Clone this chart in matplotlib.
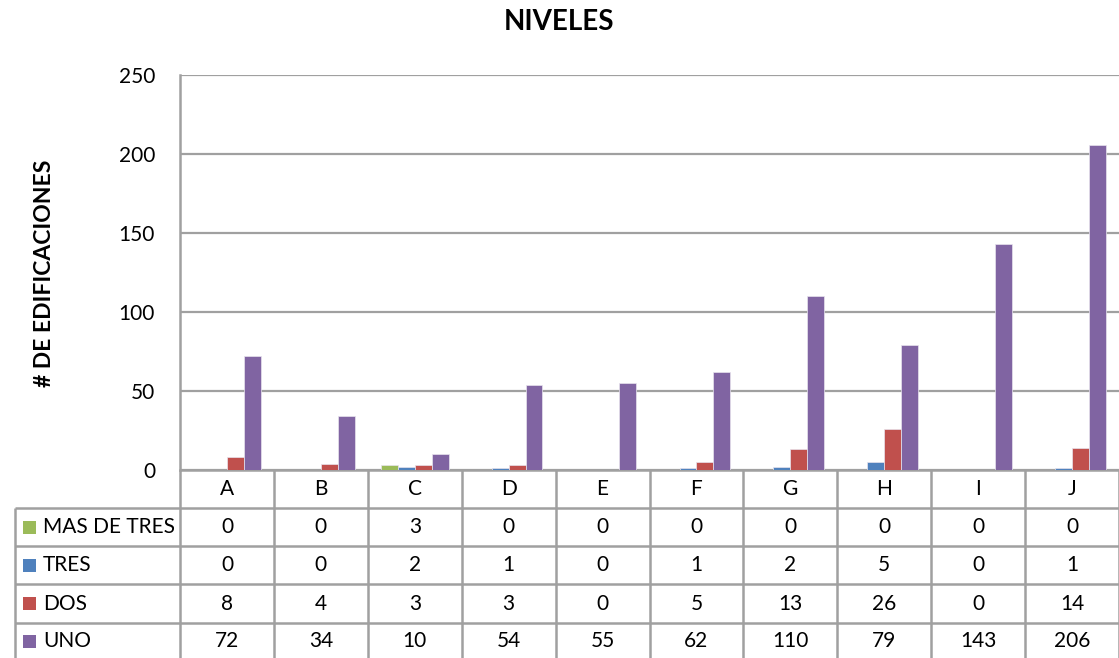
import numpy as np
import matplotlib
matplotlib.use("Agg")
import matplotlib.pyplot as plt
from matplotlib.patches import Rectangle
from matplotlib.transforms import blended_transform_factory

plt.rcParams['font.family'] = ['Lato', 'DejaVu Sans']

# Data
categories = ['A', 'B', 'C', 'D', 'E', 'F', 'G', 'H', 'I', 'J']
series_names = ['MAS DE TRES', 'TRES', 'DOS', 'UNO']
mas_de_tres = [0, 0, 3, 0, 0, 0, 0, 0, 0, 0]
tres = [0, 0, 2, 1, 0, 1, 2, 5, 0, 1]
dos = [8, 4, 3, 3, 0, 5, 13, 26, 0, 14]
uno = [72, 34, 10, 54, 55, 62, 110, 79, 143, 206]
y_ticks = [0, 50, 100, 150, 200, 250]

series = [mas_de_tres, tres, dos, uno]
colors = ['#9BBB59', '#4F81BD', '#C0504D', '#8064A2']
grid_color = '#a0a0a0'

W, H = 1119, 658
fig = plt.figure(figsize=(W / 100, H / 100), dpi=100)
fig.patch.set_facecolor('white')

# plot area (pixel layout converted to figure fractions)
ax = fig.add_axes([180 / W, (H - 470) / H, 939 / W, 395 / H])
x = np.arange(len(categories))
bw = 0.18
for k, (vals, col) in enumerate(zip(series, colors)):
    ax.bar(x + (k - 1.5) * bw, vals, bw, color=col, edgecolor='#e8e4ee',
           linewidth=0.5, zorder=3)

ax.set_xlim(-0.5, len(categories) - 0.5)
ax.set_ylim(0, 250)
ax.set_yticks(y_ticks)
ax.set_xticks([])
ax.yaxis.grid(True, color=grid_color, linewidth=1.6, zorder=0)
for s in ['top', 'right']:
    ax.spines[s].set_visible(False)
for s in ['left', 'bottom']:
    ax.spines[s].set_color(grid_color)
    ax.spines[s].set_linewidth(1.8)
ax.tick_params(axis='y', length=0, labelsize=15, pad=18, labelcolor='black')

fig.text(559 / W, 1 - 22 / H, 'NIVELES', ha='center', va='center',
         fontsize=20, fontweight='bold')
fig.text(45 / W, 1 - 273 / H, '# DE EDIFICACIONES', ha='center', va='center',
         rotation=90, fontsize=16.5, fontweight='bold')

# data table below the plot, in pixel coordinates
tab = fig.add_axes([0, 0, 1, 1], zorder=5)
tab.set_xlim(0, W)
tab.set_ylim(H, 0)
tab.axis('off')
tab.patch.set_alpha(0)
trans = blended_transform_factory(ax.transData, tab.transData)

line_kw = dict(color=grid_color, linewidth=1.8, solid_capstyle='butt')
row_lines = [508, 546, 584, 623]
for i in range(len(categories) + 1):
    tab.plot([i - 0.5, i - 0.5], [470, H], transform=trans, clip_on=False, **line_kw)
for yl in row_lines:
    tab.plot([15, W], [yl, yl], clip_on=False, **line_kw)
tab.plot([15, 15], [508, H], clip_on=False, **line_kw)

fs = 15
for i, c in enumerate(categories):
    tab.text(i, 489, c, transform=trans, ha='center', va='center', fontsize=fs)

row_centers = [527, 565, 603.5, 641]
for name, vals, col, yc in zip(series_names, series, colors, row_centers):
    tab.add_patch(Rectangle((23, yc - 6.5), 13, 13, facecolor=col, edgecolor='none'))
    tab.text(43, yc, name, ha='left', va='center', fontsize=fs)
    for i, v in enumerate(vals):
        tab.text(i, yc, str(v), transform=trans, ha='center', va='center', fontsize=fs)

fig.savefig('out.png', dpi=100, facecolor='white')
